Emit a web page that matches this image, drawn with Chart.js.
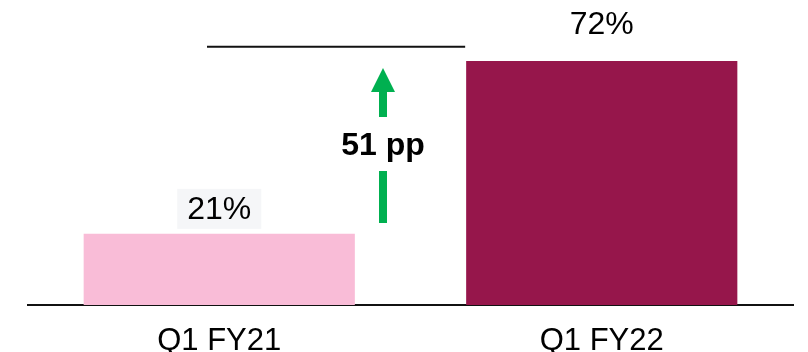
<!DOCTYPE html>
<html><head><meta charset="utf-8">
<script src="https://cdn.jsdelivr.net/npm/chart.js@4"></script>
<style>html,body{margin:0;padding:0;background:#fff}#wrap{width:808px;height:352px}</style>
</head><body><div id="wrap"><canvas id="c" width="808" height="352"></canvas></div>
<script>
const categories = ["Q1 FY21", "Q1 FY22"];
const values = [21, 72];
const valueLabels = ["21%", "72%"];
const barColors = ["#f9bcd7", "#96164b"];
const deltaLabel = "51 pp";

const FONT = "'Liberation Sans', Arial, sans-serif";

const overlay = {
  id: "overlay",
  afterDatasetsDraw(chart) {
    const ctx = chart.ctx;
    const meta = chart.getDatasetMeta(0);
    const ys = chart.scales.y;
    ctx.save();
    ctx.font = "32px " + FONT;
    ctx.textAlign = "center";
    ctx.textBaseline = "middle";
    const offs = [25, 37];
    meta.data.forEach((bar, i) => {
      const cy = bar.y - offs[i];
      if (i === 0) {
        const w = ctx.measureText(valueLabels[i]).width + 20;
        ctx.fillStyle = "#f5f6f8";
        ctx.fillRect(bar.x - w / 2, cy - 20, w, 40);
      }
      ctx.fillStyle = "#000";
      ctx.fillText(valueLabels[i], bar.x, cy + 1);
    });
    const lineY = ys.getPixelForValue(76.2);
    const b2 = meta.data[1];
    ctx.strokeStyle = "#111";
    ctx.lineWidth = 2;
    ctx.beginPath();
    ctx.moveTo(207, lineY);
    ctx.lineTo(b2.x - b2.width / 2 - 1, lineY);
    ctx.stroke();
    const ax = 383;
    ctx.fillStyle = "#00b050";
    ctx.beginPath();
    ctx.moveTo(ax, 68);
    ctx.lineTo(ax + 12, 92);
    ctx.lineTo(ax - 12, 92);
    ctx.closePath();
    ctx.fill();
    ctx.fillRect(ax - 4, 91, 8, 26);
    ctx.fillRect(ax - 4, 171, 8, 52);
    ctx.fillStyle = "#000";
    ctx.font = "bold 32px " + FONT;
    ctx.fillText(deltaLabel, ax, 146);
    ctx.restore();
  }
};

new Chart(document.getElementById("c"), {
  type: "bar",
  data: {
    labels: categories,
    datasets: [{
      data: values,
      backgroundColor: barColors,
      borderWidth: 0,
      barPercentage: 0.709,
      categoryPercentage: 1
    }]
  },
  options: {
    responsive: false,
    animation: false,
    layout: { padding: { left: 28, right: 15, top: 0, bottom: 0 } },
    plugins: { legend: { display: false }, tooltip: { enabled: false } },
    scales: {
      y: { display: false, min: 0, max: 90 },
      x: {
        grid: { display: false, drawTicks: false },
        border: { display: true, color: "#111", width: 2 },
        ticks: { color: "#000", font: { family: FONT, size: 31 }, padding: 18 },
        afterFit(scale) { scale.height = 47; }
      }
    }
  },
  plugins: [overlay]
});
</script></body></html>
